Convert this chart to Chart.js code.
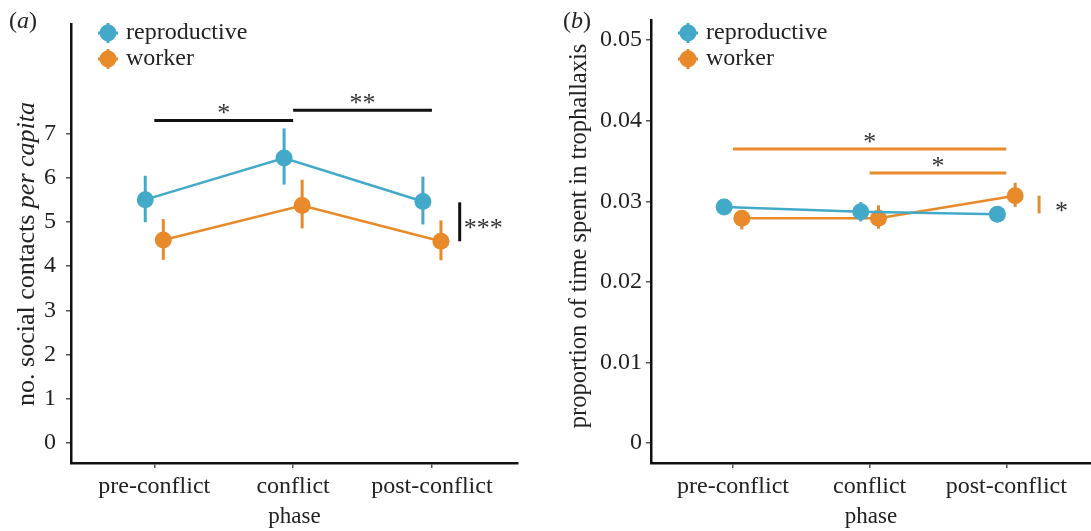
<!DOCTYPE html>
<html>
<head>
<meta charset="utf-8">
<script src="https://cdn.jsdelivr.net/npm/chart.js@4.4.1/dist/chart.umd.min.js"></script>
<style>
    body { margin: 0; background: #fff; }
    .panel { position: absolute; top: 0; height: 531px; }
    #panelA { left: 0; width: 545px; }
    #panelB { left: 545px; width: 546px; }
</style>
</head>
<body>
<div id="panelA" class="panel"><canvas id="chartA"></canvas></div>
<div id="panelB" class="panel"><canvas id="chartB"></canvas></div>
<script>
// categories
const phases = ['pre-conflict', 'conflict', 'post-conflict'];
const phaseIdx = [0, 1, 2];

// panel (a): social contacts per capita (mean, lower, upper)
const contactsRepro = [5.50, 6.44, 5.46];
const contactsReproLo = [4.99, 5.84, 4.94];
const contactsReproHi = [6.04, 7.11, 6.02];
const contactsWorker = [4.59, 5.37, 4.56];
const contactsWorkerLo = [4.14, 4.85, 4.13];
const contactsWorkerHi = [5.06, 5.95, 5.03];
const ticksA = [0, 1, 2, 3, 4, 5, 6, 7];

// panel (b): proportion of time in trophallaxis
const trophRepro = [0.0293, 0.0287, 0.0284];
const trophReproLo = [0.0283, 0.0275, 0.0274];
const trophReproHi = [0.0301, 0.0299, 0.0292];
const trophWorker = [0.0279, 0.0279, 0.0307];
const trophWorkerLo = [0.0265, 0.0266, 0.0293];
const trophWorkerHi = [0.0286, 0.0295, 0.0323];
const ticksB = [0, 0.01, 0.02, 0.03, 0.04, 0.05];

// significance marks: [from, to, y, label] and side bar [x, lo, hi, label]
const sigBarsA = [[0, 1, 7.29, '*'], [1, 2, 7.52, '**']];
const sigSideA = [2.2, 4.56, 5.44, '***'];
const sigBarsB = [[0, 2, 0.0365, '*'], [1, 2, 0.0335, '*']];
const sigSideB = [2.24, 0.0285, 0.0307, '*'];

const blue = '#42a9c9';
const orange = '#e8892a';
const serif = '"Liberation Serif", "DejaVu Serif", serif';
const dodge = 0.065;

function toPoints(values, offset) {
    return values.map((v, i) => ({ x: phaseIdx[i] + offset, y: v }));
}

function drawPieces(ctx, pieces, x, y, size, align) {
    // draws text made of normal / italic pieces, left to right
    let total = 0;
    pieces.forEach(p => {
        ctx.font = p[1] + ' ' + size + 'px ' + serif;
        total += ctx.measureText(p[0]).width;
    });
    let cx = align === 'center' ? x - total / 2 : x;
    ctx.textBaseline = 'middle';
    ctx.textAlign = 'left';
    pieces.forEach(p => {
        ctx.font = p[1] + ' ' + size + 'px ' + serif;
        ctx.fillText(p[0], cx, y);
        cx += ctx.measureText(p[0]).width;
    });
}

const errorBars = {
    id: 'errorBars',
    beforeDatasetsDraw(chart) {
        const ctx = chart.ctx;
        const xs = chart.scales.x, ys = chart.scales.y;
        ctx.save();
        chart.data.datasets.forEach(ds => {
            ctx.strokeStyle = ds.borderColor;
            ctx.lineWidth = 3;
            ds.data.forEach((p, i) => {
                const px = xs.getPixelForValue(p.x);
                ctx.beginPath();
                ctx.moveTo(px, ys.getPixelForValue(ds.errLo[i]));
                ctx.lineTo(px, ys.getPixelForValue(ds.errHi[i]));
                ctx.stroke();
            });
        });
        ctx.restore();
    }
};

const extras = {
    id: 'extras',
    afterDraw(chart, args, o) {
        const ctx = chart.ctx;
        const xs = chart.scales.x, ys = chart.scales.y;
        ctx.save();
        ctx.fillStyle = '#222';
        // panel letter
        drawPieces(ctx, o.letter, o.letterX, 22, 24, 'left');

        // y title, rotated
        ctx.save();
        ctx.translate(o.titleX, o.titleY);
        ctx.rotate(-Math.PI / 2);
        drawPieces(ctx, o.yTitle, 0, 0, o.titleSize, 'center');
        ctx.restore();

        // legend
        const names = chart.data.datasets.map(ds => [ds.label, ds.borderColor]);
        names.forEach((n, i) => {
            const cy = o.legendY + i * 26;
            ctx.strokeStyle = n[1];
            ctx.fillStyle = n[1];
            ctx.lineWidth = 3;
            ctx.beginPath();
            ctx.moveTo(o.legendX - 10, cy); ctx.lineTo(o.legendX + 10, cy);
            ctx.moveTo(o.legendX, cy - 10); ctx.lineTo(o.legendX, cy + 10);
            ctx.stroke();
            ctx.beginPath();
            ctx.arc(o.legendX, cy, 8.5, 0, Math.PI * 2);
            ctx.fill();
            ctx.fillStyle = '#222';
            drawPieces(ctx, [[n[0], 'normal']], o.legendX + 18, cy, 24, 'left');
        });

        // significance bars
        ctx.strokeStyle = o.sigColor;
        ctx.lineWidth = 3;
        o.sigBars.forEach(b => {
            const x1 = xs.getPixelForValue(b[0]);
            const x2 = xs.getPixelForValue(b[1]);
            const y = ys.getPixelForValue(b[2]);
            ctx.beginPath();
            ctx.moveTo(x1, y); ctx.lineTo(x2, y);
            ctx.stroke();
            ctx.fillStyle = '#333';
            ctx.font = '26px ' + serif;
            ctx.textAlign = 'center';
            ctx.textBaseline = 'alphabetic';
            ctx.fillText(b[3], (x1 + x2) / 2, y + 1);
        });
        const s = o.sigSide;
        const sx = xs.getPixelForValue(s[0]);
        ctx.beginPath();
        ctx.moveTo(sx, ys.getPixelForValue(s[1]));
        ctx.lineTo(sx, ys.getPixelForValue(s[2]));
        ctx.stroke();
        ctx.fillStyle = '#333';
        ctx.font = '26px ' + serif;
        ctx.textAlign = 'left';
        ctx.textBaseline = 'alphabetic';
        ctx.fillText(s[3], sx + o.sideGap, (ys.getPixelForValue(s[1]) + ys.getPixelForValue(s[2])) / 2 + 14);
        ctx.restore();
    }
};

function makeChart(id, cfg) {
    const series = [
        { label: 'reproductive', data: toPoints(cfg.repro, -dodge), errLo: cfg.reproLo, errHi: cfg.reproHi, color: blue },
        { label: 'worker', data: toPoints(cfg.worker, dodge), errLo: cfg.workerLo, errHi: cfg.workerHi, color: orange }
    ];
    return new Chart(document.getElementById(id), {
        type: 'line',
        data: {
            datasets: series.map(s => ({
                label: s.label,
                data: s.data,
                errLo: s.errLo,
                errHi: s.errHi,
                borderColor: s.color,
                backgroundColor: s.color,
                borderWidth: 2.5,
                pointRadius: 8.5,
                pointBorderWidth: 0,
                pointBackgroundColor: s.color,
                tension: 0,
                clip: false
            }))
        },
        plugins: [errorBars, extras],
        options: {
            responsive: true,
            maintainAspectRatio: false,
            animation: false,
            events: [],
            layout: { autoPadding: false, padding: { left: 0, right: cfg.padRight, top: 20, bottom: 0 } },
            plugins: {
                legend: { display: false },
                tooltip: { enabled: false },
                extras: cfg.extras
            },
            scales: {
                x: {
                    type: 'linear',
                    min: -0.6,
                    max: 2.62,
                    afterBuildTicks: scale => { scale.ticks = phaseIdx.map(v => ({ value: v })); },
                    afterFit: scale => {
                        scale.height = 68;
                        scale.paddingLeft = 0;
                        scale.paddingRight = 0;
                    },
                    ticks: {
                        callback: v => phases[v],
                        color: '#222',
                        font: { family: serif, size: 24 },
                        padding: 4,
                        maxRotation: 0
                    },
                    grid: { drawOnChartArea: false, drawTicks: true, tickLength: 5, tickColor: '#555', lineWidth: 1.5 },
                    border: { display: true, color: '#111', width: 2.5 },
                    title: { display: true, text: 'phase', color: '#222', font: { family: serif, size: 23 }, padding: { top: 0, bottom: 0 } }
                },
                y: {
                    type: 'linear',
                    min: cfg.yMin,
                    max: cfg.yMax,
                    afterBuildTicks: scale => { scale.ticks = cfg.ticks.map(v => ({ value: v })); },
                    afterFit: scale => { scale.width = cfg.yWidth; },
                    ticks: {
                        callback: v => String(v),
                        color: '#222',
                        font: { family: serif, size: 24 },
                        padding: cfg.tickPad
                    },
                    grid: { drawOnChartArea: false, drawTicks: true, tickLength: 5, tickColor: '#555', lineWidth: 1.5 },
                    border: { display: true, color: '#111', width: 2.5 }
                }
            }
        }
    });
}

makeChart('chartA', {
    repro: contactsRepro, reproLo: contactsReproLo, reproHi: contactsReproHi,
    worker: contactsWorker, workerLo: contactsWorkerLo, workerHi: contactsWorkerHi,
    ticks: ticksA, yMin: -0.45, yMax: 9.46, yWidth: 71, tickPad: 10, padRight: 27,
    extras: {
        letter: [['(', 'normal'], ['a', 'italic'], [')', 'normal']], letterX: 9,
        yTitle: [['no. social contacts ', 'normal'], ['per capita', 'italic']],
        titleX: 27, titleY: 254, titleSize: 26,
        legendX: 108, legendY: 33,
        sigBars: sigBarsA, sigSide: sigSideA, sigColor: '#111', sideGap: 4
    }
});

makeChart('chartB', {
    repro: trophRepro, reproLo: trophReproLo, reproHi: trophReproHi,
    worker: trophWorker, workerLo: trophWorkerLo, workerHi: trophWorkerHi,
    ticks: ticksB, yMin: -0.00248, yMax: 0.0525, yWidth: 106, tickPad: 4, padRight: 0,
    extras: {
        letter: [['(', 'normal'], ['b', 'italic'], [')', 'normal']], letterX: 18,
        yTitle: [['proportion of time spent in trophallaxis', 'normal']],
        titleX: 35, titleY: 236, titleSize: 24.5,
        legendX: 143, legendY: 33,
        sigBars: sigBarsB, sigSide: sigSideB, sigColor: orange, sideGap: 16
    }
});
</script>
</body>
</html>
